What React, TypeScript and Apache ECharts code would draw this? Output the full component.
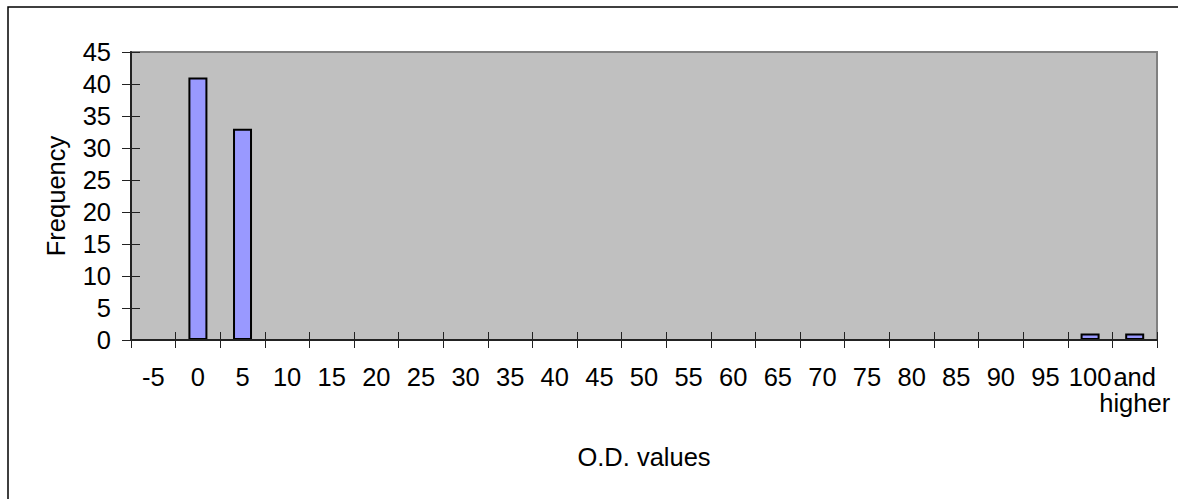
import React, { useEffect, useRef } from "react";
import * as echarts from "echarts";

// Histogram bins (upper limits) and their counts
const binLabels: string[] = [
  "-5", "0", "5", "10", "15", "20", "25", "30", "35", "40", "45", "50",
  "55", "60", "65", "70", "75", "80", "85", "90", "95", "100", "and\nhigher",
];
const frequencies: number[] = [
  0, 41, 33, 0, 0, 0, 0, 0, 0, 0, 0, 0,
  0, 0, 0, 0, 0, 0, 0, 0, 0, 1, 1,
];
const yTicks = { min: 0, max: 45, interval: 5 };

const FONT = "'Liberation Sans', Arial, sans-serif";
const FS = 25.5;

export default function App() {
  const ref = useRef<HTMLDivElement>(null);

  useEffect(() => {
    if (!ref.current) return;
    const chart = echarts.init(ref.current, null, { renderer: "svg" });
    chart.setOption({
      animation: false,
      backgroundColor: "#ffffff",
      textStyle: { fontFamily: FONT, color: "#000" },
      grid: {
        left: 131,
        top: 52,
        right: 21,
        bottom: 159,
        show: true,
        backgroundColor: "#C0C0C0",
        borderColor: "#808080",
        borderWidth: 2,
      },
      graphic: [
        {
          type: "rect",
          shape: { x: 8, y: 7, width: 1200, height: 520 },
          style: { fill: "none", stroke: "#000", lineWidth: 1.5 },
          silent: true,
        },
      ],
      xAxis: [
        {
          type: "category",
          data: binLabels,
          boundaryGap: true,
          name: "O.D. values",
          nameLocation: "middle",
          nameGap: 104,
          nameTextStyle: { fontFamily: FONT, fontSize: FS, color: "#000" },
          axisLine: { show: true, lineStyle: { color: "#222", width: 2 } },
          axisTick: {
            show: true,
            inside: false,
            length: 8,
            alignWithLabel: false,
            lineStyle: { color: "#222", width: 1 },
          },
          axisLabel: {
            interval: 0,
            margin: 24,
            fontFamily: FONT,
            fontSize: FS,
            color: "#000",
            lineHeight: 26,
            align: "center",
          },
          splitLine: { show: false },
          z: 5,
        },
        {
          // inner half of the crossing tick marks
          type: "category",
          data: binLabels,
          boundaryGap: true,
          position: "bottom",
          axisLine: { show: false },
          axisTick: {
            show: true,
            inside: true,
            length: 8,
            alignWithLabel: false,
            lineStyle: { color: "#222", width: 1 },
          },
          axisLabel: { show: false },
          splitLine: { show: false },
        },
      ],
      yAxis: [
        {
          type: "value",
          min: yTicks.min,
          max: yTicks.max,
          interval: yTicks.interval,
          name: "Frequency",
          nameLocation: "middle",
          nameRotate: 90,
          nameGap: 62,
          nameTextStyle: { fontFamily: FONT, fontSize: FS, color: "#000" },
          axisLine: { show: true, lineStyle: { color: "#222", width: 2 } },
          axisTick: {
            show: true,
            inside: false,
            length: 9,
            lineStyle: { color: "#222", width: 1 },
          },
          axisLabel: {
            margin: 20,
            fontFamily: FONT,
            fontSize: FS,
            color: "#000",
          },
          splitLine: { show: false },
          z: 5,
        },
        {
          type: "value",
          min: yTicks.min,
          max: yTicks.max,
          interval: yTicks.interval,
          position: "left",
          axisLine: { show: false },
          axisTick: {
            show: true,
            inside: true,
            length: 9,
            lineStyle: { color: "#222", width: 1 },
          },
          axisLabel: { show: false },
          splitLine: { show: false },
        },
      ],
      series: [
        {
          type: "bar",
          xAxisIndex: 0,
          yAxisIndex: 0,
          data: frequencies,
          barWidth: 19,
          itemStyle: {
            color: "#9999FF",
            borderColor: "#000",
            borderWidth: 2,
          },
          z: 3,
        },
      ],
    });
    return () => chart.dispose();
  }, []);

  return (
    <div
      ref={ref}
      style={{ position: "fixed", left: 0, top: 0, width: 1178, height: 499 }}
    />
  );
}
